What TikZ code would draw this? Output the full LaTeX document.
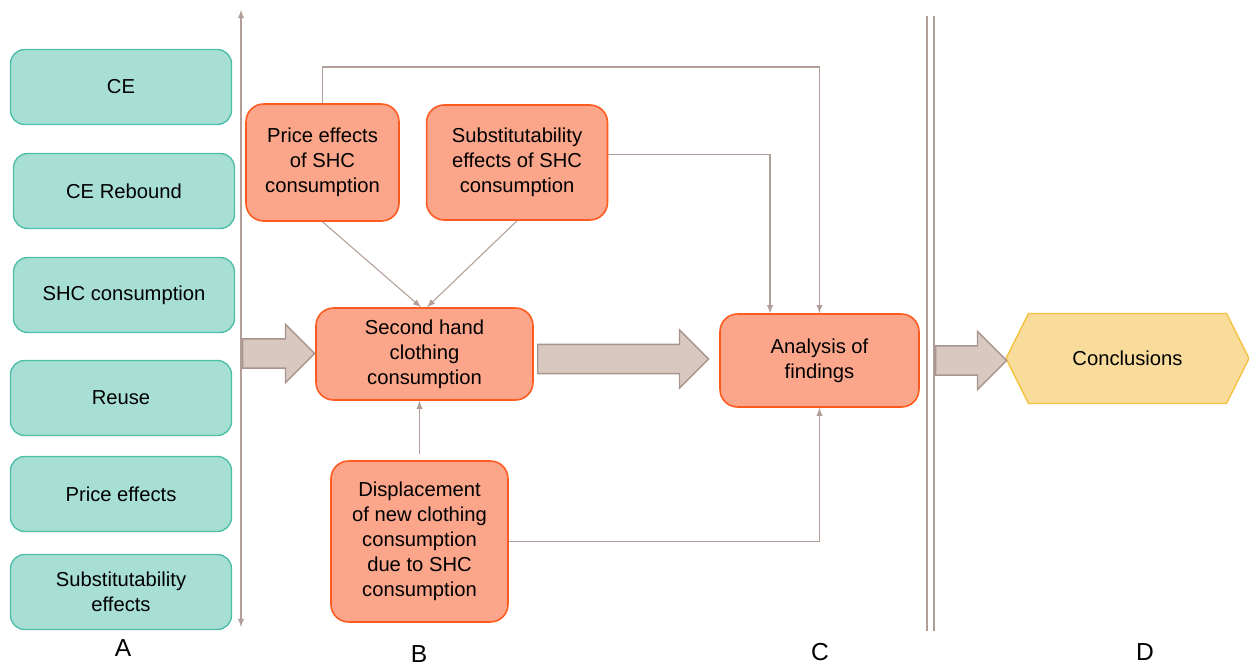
\documentclass[tikz,border=0pt]{standalone}
\usepackage{fontspec}
\setmainfont{Liberation Sans}
\usetikzlibrary{arrows, shapes, positioning}

\definecolor{tealfill}{HTML}{A7DFD5}
\definecolor{tealline}{HTML}{4DBFA8}
\definecolor{orgfill}{HTML}{FBA58A}
\definecolor{orgline}{HTML}{FF5A1F}
\definecolor{arrfill}{HTML}{D9C8C0}
\definecolor{arrline}{HTML}{A8958E}
\definecolor{linkcol}{HTML}{B29E96}
\definecolor{confill}{HTML}{F9DB9B}
\definecolor{conline}{HTML}{F5C342}

\begin{document}
\begin{tikzpicture}[x=0.02cm, y=-0.02cm,
    font=\fontsize{11.5}{14.2}\selectfont,
    tbox/.style={rectangle, rounded corners=8pt, draw=tealline, fill=tealfill, line width=0.8pt,
        minimum width=4.42cm, minimum height=1.5cm, align=center},
    obox/.style={rectangle, rounded corners=10pt, draw=orgline, fill=orgfill, line width=0.9pt, align=center},
    barrow/.style={single arrow, draw=arrline, fill=arrfill, line width=0.8pt, anchor=tail,
        inner xsep=0pt, inner ysep=0.28cm, single arrow head extend=0.29cm},
    link/.style={draw=linkcol, line width=0.6pt},
    letter/.style={font=\fontsize{14}{16}\selectfont}]
    \useasboundingbox (0,0) rectangle (1249,666);

    \node[tbox] (ce) at (121,87) {CE};
    \node[tbox] (reb) at (124,191) {CE Rebound};
    \node[tbox] (shc) at (124,295) {SHC consumption};
    \node[tbox] (reuse) at (121,398) {Reuse};
    \node[tbox] (price) at (121,494) {Price effects};
    \node[tbox] (subst) at (121,592) {Substitutability\\effects};

    \node[obox, minimum width=3.06cm, minimum height=2.34cm] (pe) at (322.5,162.5) {Price effects\\of SHC\\consumption};
    \node[obox, minimum width=3.62cm, minimum height=2.3cm, right=0.52cm of pe] (se) {Substitutability\\effects of SHC\\consumption};
    \node[obox, minimum width=4.34cm, minimum height=1.84cm] (sh) at (424.5,354) {Second hand\\clothing\\consumption};
    \node[obox, minimum width=3.54cm, minimum height=3.22cm] (disp) at (419.5,541.5) {Displacement\\of new clothing\\consumption\\due to SHC\\consumption};
    \node[obox, minimum width=3.98cm, minimum height=1.86cm] (af) at (819.5,360.5) {Analysis of\\findings};
    \node[signal, signal to=west and east, signal pointer angle=127, draw=conline, fill=confill, line width=0.8pt,
        minimum width=4.86cm, minimum height=1.8cm] (conc) at (1127.5,358.5) {Conclusions};

    \node[barrow, minimum height=1.44cm] (a1) at (242,353.5) {};
    \node[barrow, minimum height=3.42cm] (a2) at (537,359) {};
    \node[barrow, minimum height=1.42cm] (a3) at (935,360.5) {};

    \coordinate (vtop) at (241,10);
    \coordinate (vbot) at (241,627);
    \coordinate (topy) at (0,67);
    \draw[link, latex-latex] (vtop) -- (vbot);
    \draw[link, -latex] (pe.north) -- (pe.north |- topy) -| (af.north);
    \draw[link, -latex] ([yshift=0.16cm]se.east) -| ([xshift=-0.99cm]af.north);
    \draw[link, -latex] (pe.south) -- ([xshift=-0.07cm]sh.north);
    \draw[link, -latex] (se.south) -- ([xshift=0.05cm]sh.north);
    \draw[link, -latex] ([yshift=0.12cm]disp.north) -- (sh.south -| disp.north);
    \draw[link, -latex] (disp.east) -| (af.south);

    % divider
    \draw[link, line width=0.8pt] (927,16) -- (927,631) (934,16) -- (934,631);

    \node[letter] (la) at (123,648) {A};
    \node[letter] (lb) at (419,654) {B};
    \node[letter] (lc) at (820,652) {C};
    \node[letter] (ld) at (1145,652) {D};
\end{tikzpicture}
\end{document}
